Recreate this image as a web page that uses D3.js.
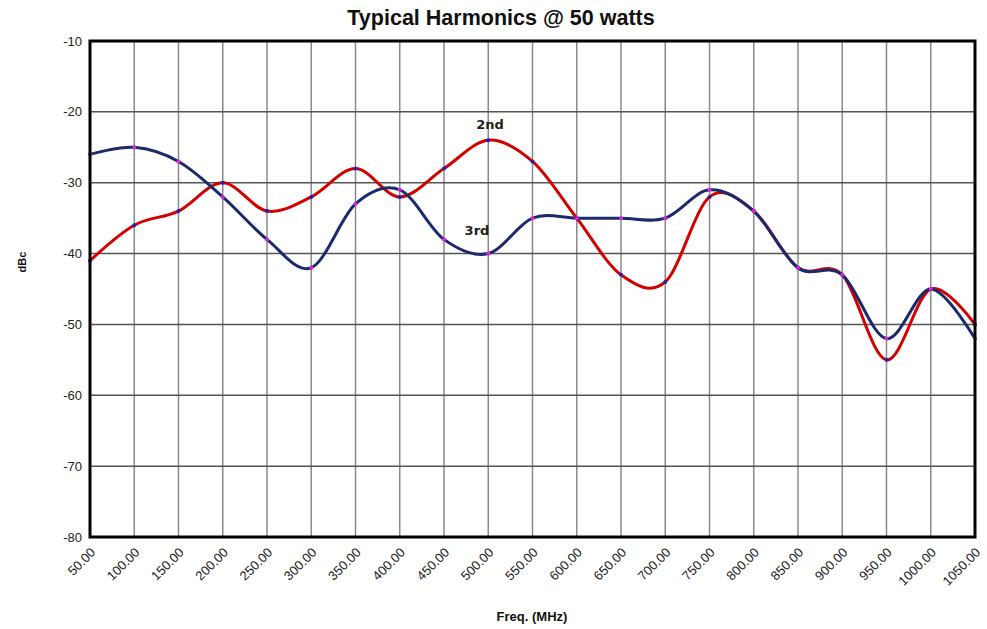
<!DOCTYPE html>
<html><head><meta charset="utf-8">
<script src="https://cdn.jsdelivr.net/npm/d3@7"></script>
<style>body{margin:0;background:#fff;}svg{display:block;}</style>
</head><body>
<svg id="c" width="987" height="629"></svg>
<script>
const freqs = [50,100,150,200,250,300,350,400,450,500,550,600,650,700,750,800,850,900,950,1000,1050];
const second = [-41,-36,-34,-30,-34,-32,-28,-32,-28,-24,-27,-35,-43,-44,-32,-34,-42,-43,-55,-45,-50];
const third  = [-26,-25,-27,-32,-38,-42,-33,-31,-38,-40,-35,-35,-35,-35,-31,-34,-42,-43,-52,-45,-52];
const yTicks = [-10,-20,-30,-40,-50,-60,-70,-80];
const titleText = "Typical Harmonics @ 50 watts";
const xTitle = "Freq. (MHz)";
const yTitle = "dBc";

const svg = d3.select("#c");
const m = {l:90, r:975, t:41, b:537};
const x = d3.scaleLinear().domain([50,1050]).range([m.l, m.r]);
const y = d3.scaleLinear().domain([-80,-10]).range([m.b, m.t]);

// grid
const g = svg.append("g");
g.selectAll("line.v").data(freqs).join("line")
  .attr("x1", d=>x(d)).attr("x2", d=>x(d)).attr("y1", m.t).attr("y2", m.b)
  .attr("stroke", "#8a8a8a").attr("stroke-width", 1.5);
g.selectAll("line.h").data(yTicks).join("line")
  .attr("x1", m.l).attr("x2", m.r).attr("y1", d=>y(d)).attr("y2", d=>y(d))
  .attr("stroke", "#555").attr("stroke-width", 1.5);

// y axis labels
svg.append("g").selectAll("text").data(yTicks).join("text")
  .attr("x", m.l - 8).attr("y", d=>y(d)).attr("dy", "0.35em")
  .attr("text-anchor", "end").attr("font-family", "Liberation Sans, Arial, sans-serif")
  .attr("font-size", 13).attr("fill", "#222").text(d=>d);

// x axis labels
svg.append("g").selectAll("text").data(freqs).join("text")
  .attr("transform", d=>`translate(${x(d)+3},${m.b+13}) rotate(-45)`)
  .attr("text-anchor", "end").attr("dy", "0.35em")
  .attr("font-family", "Liberation Sans, Arial, sans-serif")
  .attr("font-size", 13).attr("fill", "#222").text(d=>d.toFixed(2));

// lines
const line = d3.line().x((d,i)=>x(freqs[i])).y(d=>y(d)).curve(d3.curveCatmullRom.alpha(0));
svg.append("path").datum(second).attr("d", line).attr("fill","none")
  .attr("stroke", "#d40000").attr("stroke-width", 3);
svg.append("path").datum(third).attr("d", line).attr("fill","none")
  .attr("stroke", "#1a2a6c").attr("stroke-width", 3);
svg.append("g").selectAll("circle").data(second).join("circle")
  .attr("cx", (d,i)=>x(freqs[i])).attr("cy", d=>y(d)).attr("r", 2).attr("fill", "#2020c0");
svg.append("g").selectAll("circle").data(third).join("circle")
  .attr("cx", (d,i)=>x(freqs[i])).attr("cy", d=>y(d)).attr("r", 2).attr("fill", "#e020e0");

// frame
svg.append("rect").attr("x", m.l).attr("y", m.t).attr("width", m.r-m.l).attr("height", m.b-m.t)
  .attr("fill","none").attr("stroke","#000").attr("stroke-width", 3);

// series labels
svg.append("text").attr("x", 490).attr("y", 129).attr("text-anchor","middle")
  .attr("font-family","DejaVu Sans, sans-serif").attr("font-weight","bold").attr("font-size",13)
  .attr("fill","#222").text("2nd");
svg.append("text").attr("x", 477).attr("y", 235).attr("text-anchor","middle")
  .attr("font-family","DejaVu Sans, sans-serif").attr("font-weight","bold").attr("font-size",13)
  .attr("fill","#222").text("3rd");

// titles
svg.append("text").attr("x", 501).attr("y", 25).attr("text-anchor","middle")
  .attr("font-family","Liberation Sans, Arial, sans-serif").attr("font-weight","bold")
  .attr("font-size",21.5).attr("fill","#111").text(titleText);
svg.append("text").attr("x", 532).attr("y", 621).attr("text-anchor","middle")
  .attr("font-family","Liberation Sans, Arial, sans-serif").attr("font-weight","bold")
  .attr("font-size",13).attr("fill","#111").text(xTitle);
svg.append("text").attr("transform","translate(26,262) rotate(-90)").attr("text-anchor","middle")
  .attr("font-family","Liberation Sans, Arial, sans-serif").attr("font-weight","bold")
  .attr("font-size",11).attr("fill","#111").text(yTitle);
</script>
</body></html>
